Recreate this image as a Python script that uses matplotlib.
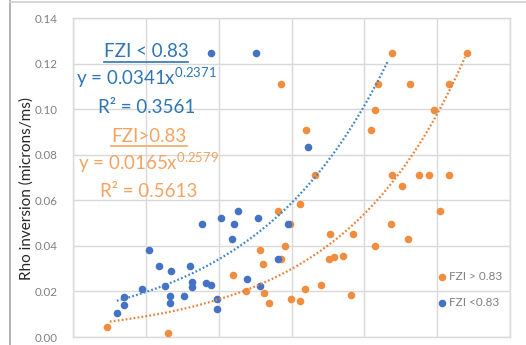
import numpy as np
import matplotlib
matplotlib.use("Agg")
import matplotlib.pyplot as plt
from matplotlib.lines import Line2D

plt.rcParams["font.family"] = ["Lato", "DejaVu Sans"]
plt.rcParams["mathtext.fontset"] = "custom"
plt.rcParams["mathtext.rm"] = "Lato"
plt.rcParams["mathtext.it"] = "Lato"
plt.rcParams["mathtext.bf"] = "Lato"

# ---------------- data ----------------
# FZI < 0.83 (blue)
low_x = [0.0405, 0.0506, 0.0506, 0.0893, 0.110, 0.150, 0.182, 0.219, 0.214, 0.214,
         0.337, 0.404, 0.430, 0.434, 0.663, 0.784, 0.948, 0.948, 0.595, 1.06,
         1.60, 1.54, 1.85, 2.47, 3.50, 3.75, 6.52, 9.03, 17.1, 0.777, 3.22]
low_y = [0.0107, 0.0176, 0.0142, 0.0209, 0.0380, 0.0310, 0.0223, 0.0290, 0.0180, 0.0151,
         0.0179, 0.0310, 0.0241, 0.0219, 0.0237, 0.0230, 0.0165, 0.0124, 0.0495, 0.0521,
         0.0495, 0.0431, 0.0553, 0.0253, 0.0522, 0.0222, 0.0341, 0.0495, 0.0834, 0.1248, 0.1248]

# FZI > 0.83 (orange)
high_x = [0.0295, 0.200, 1.59, 2.36, 3.72, 4.06, 4.19, 4.91, 6.46, 7.28,
          8.08, 9.47, 9.89, 13.1, 13.1, 15.3, 21.3, 25.2, 33.4, 33.2,
          38.5, 51.2, 65.6, 70.3, 139, 230, 400, 242, 324, 571,
          772, 1452, 1110, 7.21, 15.7, 242, 2540, 156, 424, 1466,
          140, 912, 125]
high_y = [0.0044, 0.0019, 0.0273, 0.0200, 0.0380, 0.0321, 0.0193, 0.0151, 0.0553, 0.0341,
          0.0399, 0.0495, 0.0169, 0.0159, 0.0586, 0.0213, 0.0712, 0.0229, 0.0451, 0.0341,
          0.0353, 0.0355, 0.0186, 0.0451, 0.0398, 0.0495, 0.0432, 0.0712, 0.0665, 0.0712,
          0.0712, 0.0712, 0.0553, 0.1110, 0.0908, 0.1248, 0.1248, 0.1110, 0.1110, 0.1110,
          0.0999, 0.0999, 0.0908]

# power-law trendlines as printed on the chart: y = a * x^b, over the drawn range
low_fit = (0.0341, 0.2371)
low_fit_range = (0.040, 213)
high_fit = (0.0165, 0.2579)
high_fit_range = (0.032, 2410)

y_ticks = [0.00, 0.02, 0.04, 0.06, 0.08, 0.10, 0.12, 0.14]

BLUE = "#4472C4"
BLUE_TXT = "#2E75B6"
ORANGE = "#F08D3F"
ORANGE_TXT = "#F3A463"
GRID = "#d9d9d9"

W, H = 526, 345
fig = plt.figure(figsize=(W / 100, H / 100), dpi=100)
ax = fig.add_axes([73 / W, (H - 337) / H, (510 - 73) / W, (337 - 18.3) / H])

ax.scatter(high_x, high_y, s=30, color=ORANGE, zorder=3, linewidths=0, label="FZI > 0.83")
ax.scatter(low_x, low_y, s=30, color=BLUE, zorder=4, linewidths=0, label="FZI <0.83")

for (a, b), (lo, hi), c in [(low_fit, low_fit_range, "#3D85C6"),
                            (high_fit, high_fit_range, "#E8803A")]:
    xx = np.geomspace(lo, hi, 200)
    ax.plot(xx, a * xx ** b, color=c, lw=1.6, ls=(0, (0.8, 1.0)), zorder=5)

ax.set_xscale("log")
ax.set_xlim(0.01, 10000)
ax.set_ylim(0, 0.14)
ax.set_yticks(y_ticks)
ax.set_yticklabels([f"{v:.2f}" for v in y_ticks])
ax.xaxis.set_major_locator(matplotlib.ticker.LogLocator(base=10, numticks=10))
ax.xaxis.set_minor_locator(matplotlib.ticker.NullLocator())
ax.tick_params(axis="x", length=0, labelbottom=False)
ax.tick_params(axis="y", length=0, pad=11, labelsize=8.3, labelcolor="#7f7f7f")
ax.grid(True, color=GRID, lw=1.0)
ax.set_axisbelow(True)
for sp in ax.spines.values():
    sp.set_color(GRID)
    sp.set_linewidth(1.0)

leg = ax.legend(handles=ax.collections[::-1][::-1], loc="upper left",
                bbox_to_anchor=((438 - 73) / 437, (337 - 271) / 318.7),
                frameon=False, fontsize=8.5, handlelength=0.7, handletextpad=0.2,
                labelspacing=1.25, borderpad=0, borderaxespad=0)
for t in leg.get_texts():
    t.set_color("#7f7f7f")

fig.text(27 / W, 1 - 188 / H, "Rho inversion (microns/ms)", rotation=90,
         ha="center", va="center", fontsize=11, color="#262626")


def ftext(px, py, s, color, size=13.5):
    return fig.text(px / W, 1 - py / H, s, ha="center", va="baseline",
                    color=color, fontsize=size)


t1 = ftext(146, 57, "FZI < 0.83", BLUE_TXT)
ftext(146, 85, r"y = 0.0341x$^{0.2371}$", BLUE_TXT)
ftext(146.5, 113, "R² = 0.3561", BLUE_TXT)
t2 = ftext(149, 142, "FZI>0.83", ORANGE_TXT)
ftext(148.5, 170, r"y = 0.0165x$^{0.2579}$", ORANGE_TXT)
ftext(148.5, 197, "R² = 0.5613", ORANGE_TXT)

# underline the two group headers
fig.canvas.draw()
for t, c in [(t1, BLUE_TXT), (t2, ORANGE_TXT)]:
    bb = t.get_window_extent()
    yy = bb.y0 - 1.5
    fig.add_artist(Line2D([bb.x0 / W, bb.x1 / W], [yy / H, yy / H],
                          transform=fig.transFigure, color=c, lw=1.2))

# chart border (top and left edges visible in the crop)
fig.add_artist(Line2D([10 / W, 10 / W], [0, 1], transform=fig.transFigure,
                      color="#a6a6a6", lw=1.2))
fig.add_artist(Line2D([10 / W, 1], [1 - 1.5 / H, 1 - 1.5 / H], transform=fig.transFigure,
                      color="#d0d0d0", lw=1.2))

fig.savefig("out.png", dpi=100)
